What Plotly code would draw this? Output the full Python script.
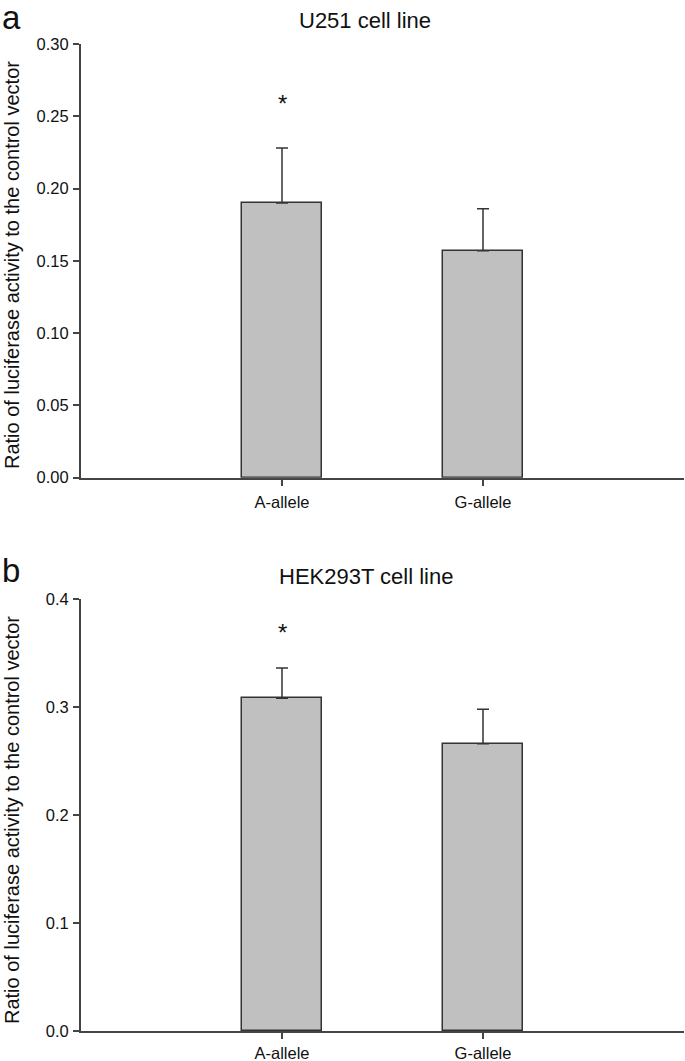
import plotly.graph_objects as go
from plotly.subplots import make_subplots

categories = ["A-allele", "G-allele"]

u251_values = [0.190, 0.157]
u251_err = [0.038, 0.029]
u251_star = [0.259, None]

hek_values = [0.308, 0.266]
hek_err = [0.028, 0.032]
hek_star = [0.369, None]

u251_ticks = [0.00, 0.05, 0.10, 0.15, 0.20, 0.25, 0.30]
u251_ticktext = ["0.00", "0.05", "0.10", "0.15", "0.20", "0.25", "0.30"]
hek_ticks = [0.0, 0.1, 0.2, 0.3, 0.4]
hek_ticktext = ["0.0", "0.1", "0.2", "0.3", "0.4"]

FONT = "Liberation Sans, Arial, sans-serif"
W, H = 685, 1061
xpos = [0, 1]

fig = make_subplots(rows=2, cols=1)

def add_panel(row, vals, errs):
    fig.add_trace(go.Bar(
        x=xpos, y=vals, width=0.4,
        marker=dict(color="#c0c0c0", line=dict(color="#333333", width=1.5)),
        error_y=dict(type="data", array=errs, arrayminus=[0] * len(errs),
                     symmetric=False, color="#333333", thickness=1.5, width=6),
        showlegend=False,
    ), row=row, col=1)

add_panel(1, u251_values, u251_err)
add_panel(2, hek_values, hek_err)

x_dom = [81 / W, 684 / W]
top_dom = [1 - 477.7 / H, 1 - 44 / H]
bot_dom = [1 - 1031 / H, 1 - 599 / H]

axis_common = dict(showgrid=False, zeroline=False, showline=True, linecolor="#444444",
                   linewidth=2, ticks="outside", ticklen=6, tickwidth=1.5, tickcolor="#444444",
                   automargin=False,
                   tickfont=dict(family=FONT, size=16.5, color="#111111"))

fig.update_layout(
    xaxis=dict(domain=x_dom, range=[-1, 2], tickvals=xpos, ticktext=categories,
               ticklabelstandoff=2, **axis_common),
    yaxis=dict(domain=top_dom, range=[0, 0.30], tickvals=u251_ticks, ticktext=u251_ticktext,
               ticklabelstandoff=1, **axis_common),
    xaxis2=dict(domain=x_dom, range=[-1, 2], tickvals=xpos, ticktext=categories,
                ticklabelstandoff=0, **axis_common),
    yaxis2=dict(domain=bot_dom, range=[0, 0.40], tickvals=hek_ticks, ticktext=hek_ticktext,
                ticklabelstandoff=1, **axis_common),
    width=W, height=H,
    margin=dict(l=0, r=0, t=0, b=0),
    plot_bgcolor="white", paper_bgcolor="white",
    bargap=0,
)

annotations = []
for xi, s in zip(xpos, u251_star):
    if s is not None:
        annotations.append(dict(x=xi, y=s, xref="x", yref="y", text="*", showarrow=False,
                                font=dict(family=FONT, size=24, color="#111111"), yanchor="middle"))
for xi, s in zip(xpos, hek_star):
    if s is not None:
        annotations.append(dict(x=xi, y=s, xref="x2", yref="y2", text="*", showarrow=False,
                                font=dict(family=FONT, size=24, color="#111111"), yanchor="middle"))

annotations.append(dict(x=365 / W, y=1 - 20 / H, xref="paper", yref="paper", text="U251 cell line",
                        showarrow=False, xanchor="center", yanchor="middle",
                        font=dict(family=FONT, size=22, color="#111111")))
annotations.append(dict(x=366 / W, y=1 - 576 / H, xref="paper", yref="paper", text="HEK293T cell line",
                        showarrow=False, xanchor="center", yanchor="middle",
                        font=dict(family=FONT, size=22, color="#111111")))
annotations.append(dict(x=0, y=1 - 17 / H, xref="paper", yref="paper", text="a",
                        showarrow=False, xanchor="left", yanchor="middle",
                        font=dict(family=FONT, size=33, color="#111111")))
annotations.append(dict(x=0, y=1 - 570 / H, xref="paper", yref="paper", text="b",
                        showarrow=False, xanchor="left", yanchor="middle",
                        font=dict(family=FONT, size=33, color="#111111")))
ytitle = "Ratio of luciferase activity to the control vector"
annotations.append(dict(x=12 / W, y=1 - 265 / H, xref="paper", yref="paper", text=ytitle,
                        showarrow=False, textangle=-90, xanchor="center", yanchor="middle",
                        font=dict(family=FONT, size=20, color="#111111")))
annotations.append(dict(x=12 / W, y=1 - 820 / H, xref="paper", yref="paper", text=ytitle,
                        showarrow=False, textangle=-90, xanchor="center", yanchor="middle",
                        font=dict(family=FONT, size=20, color="#111111")))

fig.update_layout(annotations=annotations)
fig.write_html("out.html", config={"displayModeBar": False},
               post_script="document.body.style.margin='0';document.body.style.padding='0';")
